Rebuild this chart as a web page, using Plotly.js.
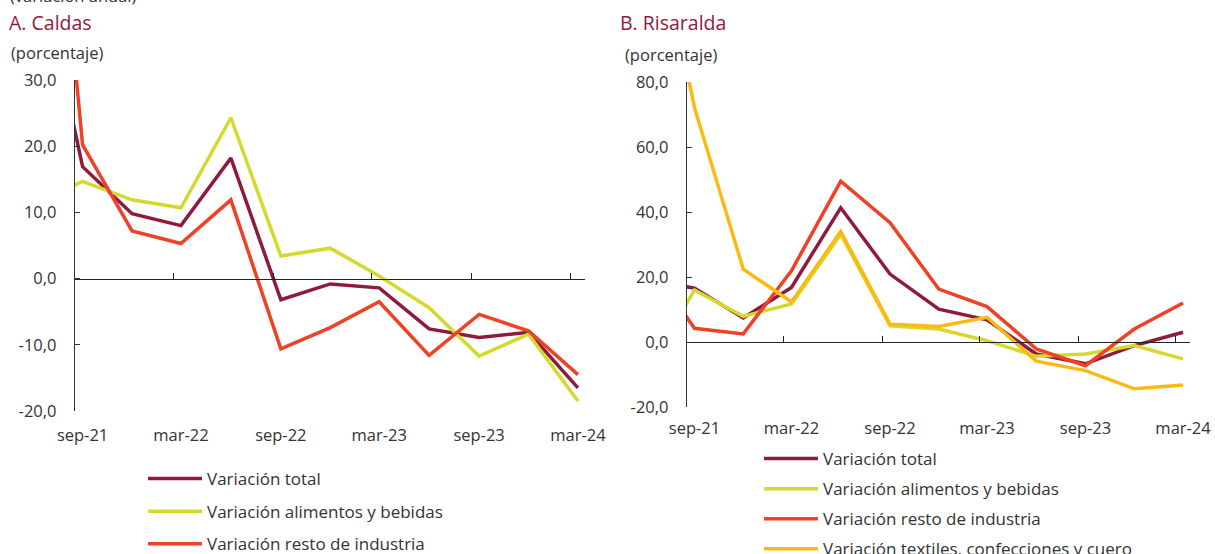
<!DOCTYPE html>
<html><head><meta charset="utf-8">
<script src="https://cdn.plot.ly/plotly-3.0.1.min.js"></script>
<style>html,body{margin:0;padding:0;background:#fff}#chart{width:1215px;height:554px}</style>
</head><body><div id="chart"></div>
<script>
// Quarterly observations (mid-month of the quarter's last month)
const fechas = ['2021-06-15','2021-09-15','2021-12-15','2022-03-15','2022-06-15','2022-09-15',
                '2022-12-15','2023-03-15','2023-06-15','2023-09-15','2023-12-15','2024-03-15'];

// A. Caldas
const caldasTotal     = [52, 16.9, 9.8, 8.0, 18.2, -3.2, -0.8, -1.4, -7.6, -8.9, -8.1, -16.5];
const caldasAlimentos = [11, 14.7, 11.9, 10.7, 24.3, 3.4, 4.6, 0.4, -4.4, -11.7, -8.4, -18.5];
const caldasResto     = [100, 20.2, 7.2, 5.3, 11.9, -10.6, -7.4, -3.5, -11.6, -5.4, -7.9, -14.5];

// B. Risaralda
const risTotal     = [19, 16.6, 7.4, 16.8, 41.3, 20.9, 10.1, 6.8, -3.7, -6.7, -1.1, 3.0];
const risAlimentos = [-10, 16.0, 7.9, 11.7, 33.1, 5.0, 4.0, 0.4, -4.4, -3.7, -1.1, -5.2];
const risResto     = [26, 4.2, 2.5, 21.9, 49.5, 36.7, 16.3, 10.9, -2.1, -7.3, 4.0, 12.0];
const risTextiles  = [145, 72.1, 22.4, 12.3, 34.0, 5.5, 4.8, 7.6, -5.9, -8.8, -14.4, -13.2];

// Axis labels
const xLabelVals = ['2021-09-15','2022-03-15','2022-09-15','2023-03-15','2023-09-15','2024-03-15'];
const xLabelText = ['sep-21','mar-22','sep-22','mar-23','sep-23','mar-24'];
const xTickMarks = ['2021-09-01','2022-03-01','2022-09-01','2023-03-01','2023-09-01','2024-03-01'];
const yValsA = [-20, -10, 0, 10, 20, 30];
const yTextA = ['-20,0','-10,0','0,0','10,0','20,0','30,0'];
const yValsB = [-20, 0, 20, 40, 60, 80];
const yTextB = ['-20,0','0,0','20,0','40,0','60,0','80,0'];

const nombres = ['Variación total','Variación alimentos y bebidas','Variación resto de industria',
                 'Variación textiles, confecciones y cuero'];
const colores = ['#8E1B3C','#D3DA2D','#EE4126','#FDB913'];

const xRange = ['2021-09-01','2024-03-28'];
const rangeA = [-20, 30], rangeB = [-20, 80];
const domA_y = [1 - 411/554, 1 - 80/554];
const domB_y = [1 - 407/554, 1 - 82/554];
const domA_x = [75/1215, 585/1215];
const domB_x = [687/1215, 1190/1215];
function zeroPos(dom, r){ return dom[0] + (0 - r[0])/(r[1]-r[0])*(dom[1]-dom[0]); }

const LW = 3.5;
function tr(y, i, xa, ya, leg){
  return {x: fechas, y: y, type:'scatter', mode:'lines', name: nombres[i],
          line:{color: colores[i], width: LW}, xaxis: xa, yaxis: ya,
          legend: leg, legendgroup: leg + i, hoverinfo:'skip'};
}
const data = [
  tr(caldasTotal, 0, 'x', 'y', 'legend'),
  tr(caldasAlimentos, 1, 'x', 'y', 'legend'),
  tr(caldasResto, 2, 'x', 'y', 'legend'),
  tr(risTotal, 0, 'x2', 'y2', 'legend2'),
  tr(risAlimentos, 1, 'x2', 'y2', 'legend2'),
  tr(risResto, 2, 'x2', 'y2', 'legend2'),
  tr(risTextiles, 3, 'x2', 'y2', 'legend2'),
  {x: [], y: [], xaxis:'x3', yaxis:'y', showlegend:false, type:'scatter'},
  {x: [], y: [], xaxis:'x4', yaxis:'y2', showlegend:false, type:'scatter'}
];

const FONT = '"Open Sans", sans-serif';
const tickFont = {family: FONT, size: 16.5, color: '#333'};
function xLab(dom, ya, standoff){
  return {domain: dom, anchor: ya, type:'date', range: xRange, tickmode:'array',
          tickvals: xLabelVals, ticktext: xLabelText, ticks:'', showline:false,
          showgrid:false, zeroline:false, tickfont: tickFont, ticklabelstandoff: standoff, fixedrange:true};
}
function xZero(dom, over, pos){
  return {domain: dom, overlaying: over, matches: over, anchor:'free', position: pos, type:'date',
          range: xRange, tickmode:'array', tickvals: xTickMarks, ticks:'inside', ticklen:6,
          tickcolor:'#222', tickwidth:1, showline:true, linecolor:'#222', linewidth:1,
          showticklabels:false, showgrid:false, zeroline:false};
}
function yAx(dom, r, vals, text, anchor){
  return {domain: dom, range: r, anchor: anchor, tickmode:'array', tickvals: vals, ticktext: text,
          ticks:'inside', ticklen:5, tickcolor:'#333', showline:true, linecolor:'#333', linewidth:1.2,
          showgrid:false, zeroline:false, tickfont: tickFont, ticklabelstandoff: 14, fixedrange:true};
}

const layout = {
  width:1215, height:554, margin:{l:0,r:0,t:0,b:0, autoexpand:false},
  paper_bgcolor:'#fff', plot_bgcolor:'rgba(0,0,0,0)',
  font:{family: FONT, color:'#333'},
  xaxis: xLab(domA_x, 'y', 12),
  xaxis2: xLab(domB_x, 'y2', 9),
  xaxis3: xZero(domA_x, 'x', zeroPos(domA_y, rangeA)),
  xaxis4: xZero(domB_x, 'x2', zeroPos(domB_y, rangeB)),
  yaxis: yAx(domA_y, rangeA, yValsA, yTextA, 'x'),
  yaxis2: yAx(domB_y, rangeB, yValsB, yTextB, 'x2'),
  legend: {x: 143/1215, y: 1 - 461/554, xanchor:'left', yanchor:'top', orientation:'v',
           traceorder:'grouped', tracegroupgap: 7.5, itemwidth: 54, bgcolor:'rgba(0,0,0,0)',
           font:{family: FONT, size:17, color:'#333'}},
  legend2: {x: 759/1215, y: 1 - 441/554, xanchor:'left', yanchor:'top', orientation:'v',
           traceorder:'grouped', tracegroupgap: 5, itemwidth: 54, bgcolor:'rgba(0,0,0,0)',
           font:{family: FONT, size:17, color:'#333'}},
  annotations: [
    {text:'(variación anual)', xref:'paper', yref:'paper', x: 8/1215, y: 1 + 4/554, xanchor:'left', yanchor:'middle',
     showarrow:false, font:{family: FONT, size:16.5, color:'#333'}},
    {text:'A. Caldas', xref:'paper', yref:'paper', x: 7/1215, y: 1 - 22/554, xanchor:'left', yanchor:'middle',
     showarrow:false, font:{family: FONT, size:19.5, color:'#8E1B3C'}},
    {text:'B. Risaralda', xref:'paper', yref:'paper', x: 618/1215, y: 1 - 22/554, xanchor:'left', yanchor:'middle',
     showarrow:false, font:{family: FONT, size:19.5, color:'#8E1B3C'}},
    {text:'(porcentaje)', xref:'paper', yref:'paper', x: 9/1215, y: 1 - 52/554, xanchor:'left', yanchor:'middle',
     showarrow:false, font:{family: FONT, size:16.5, color:'#333'}},
    {text:'(porcentaje)', xref:'paper', yref:'paper', x: 623/1215, y: 1 - 55/554, xanchor:'left', yanchor:'middle',
     showarrow:false, font:{family: FONT, size:16.5, color:'#333'}}
  ],
  showlegend: true
};

Plotly.newPlot('chart', data, layout, {displayModeBar:false, staticPlot:true});
</script>
</body></html>
